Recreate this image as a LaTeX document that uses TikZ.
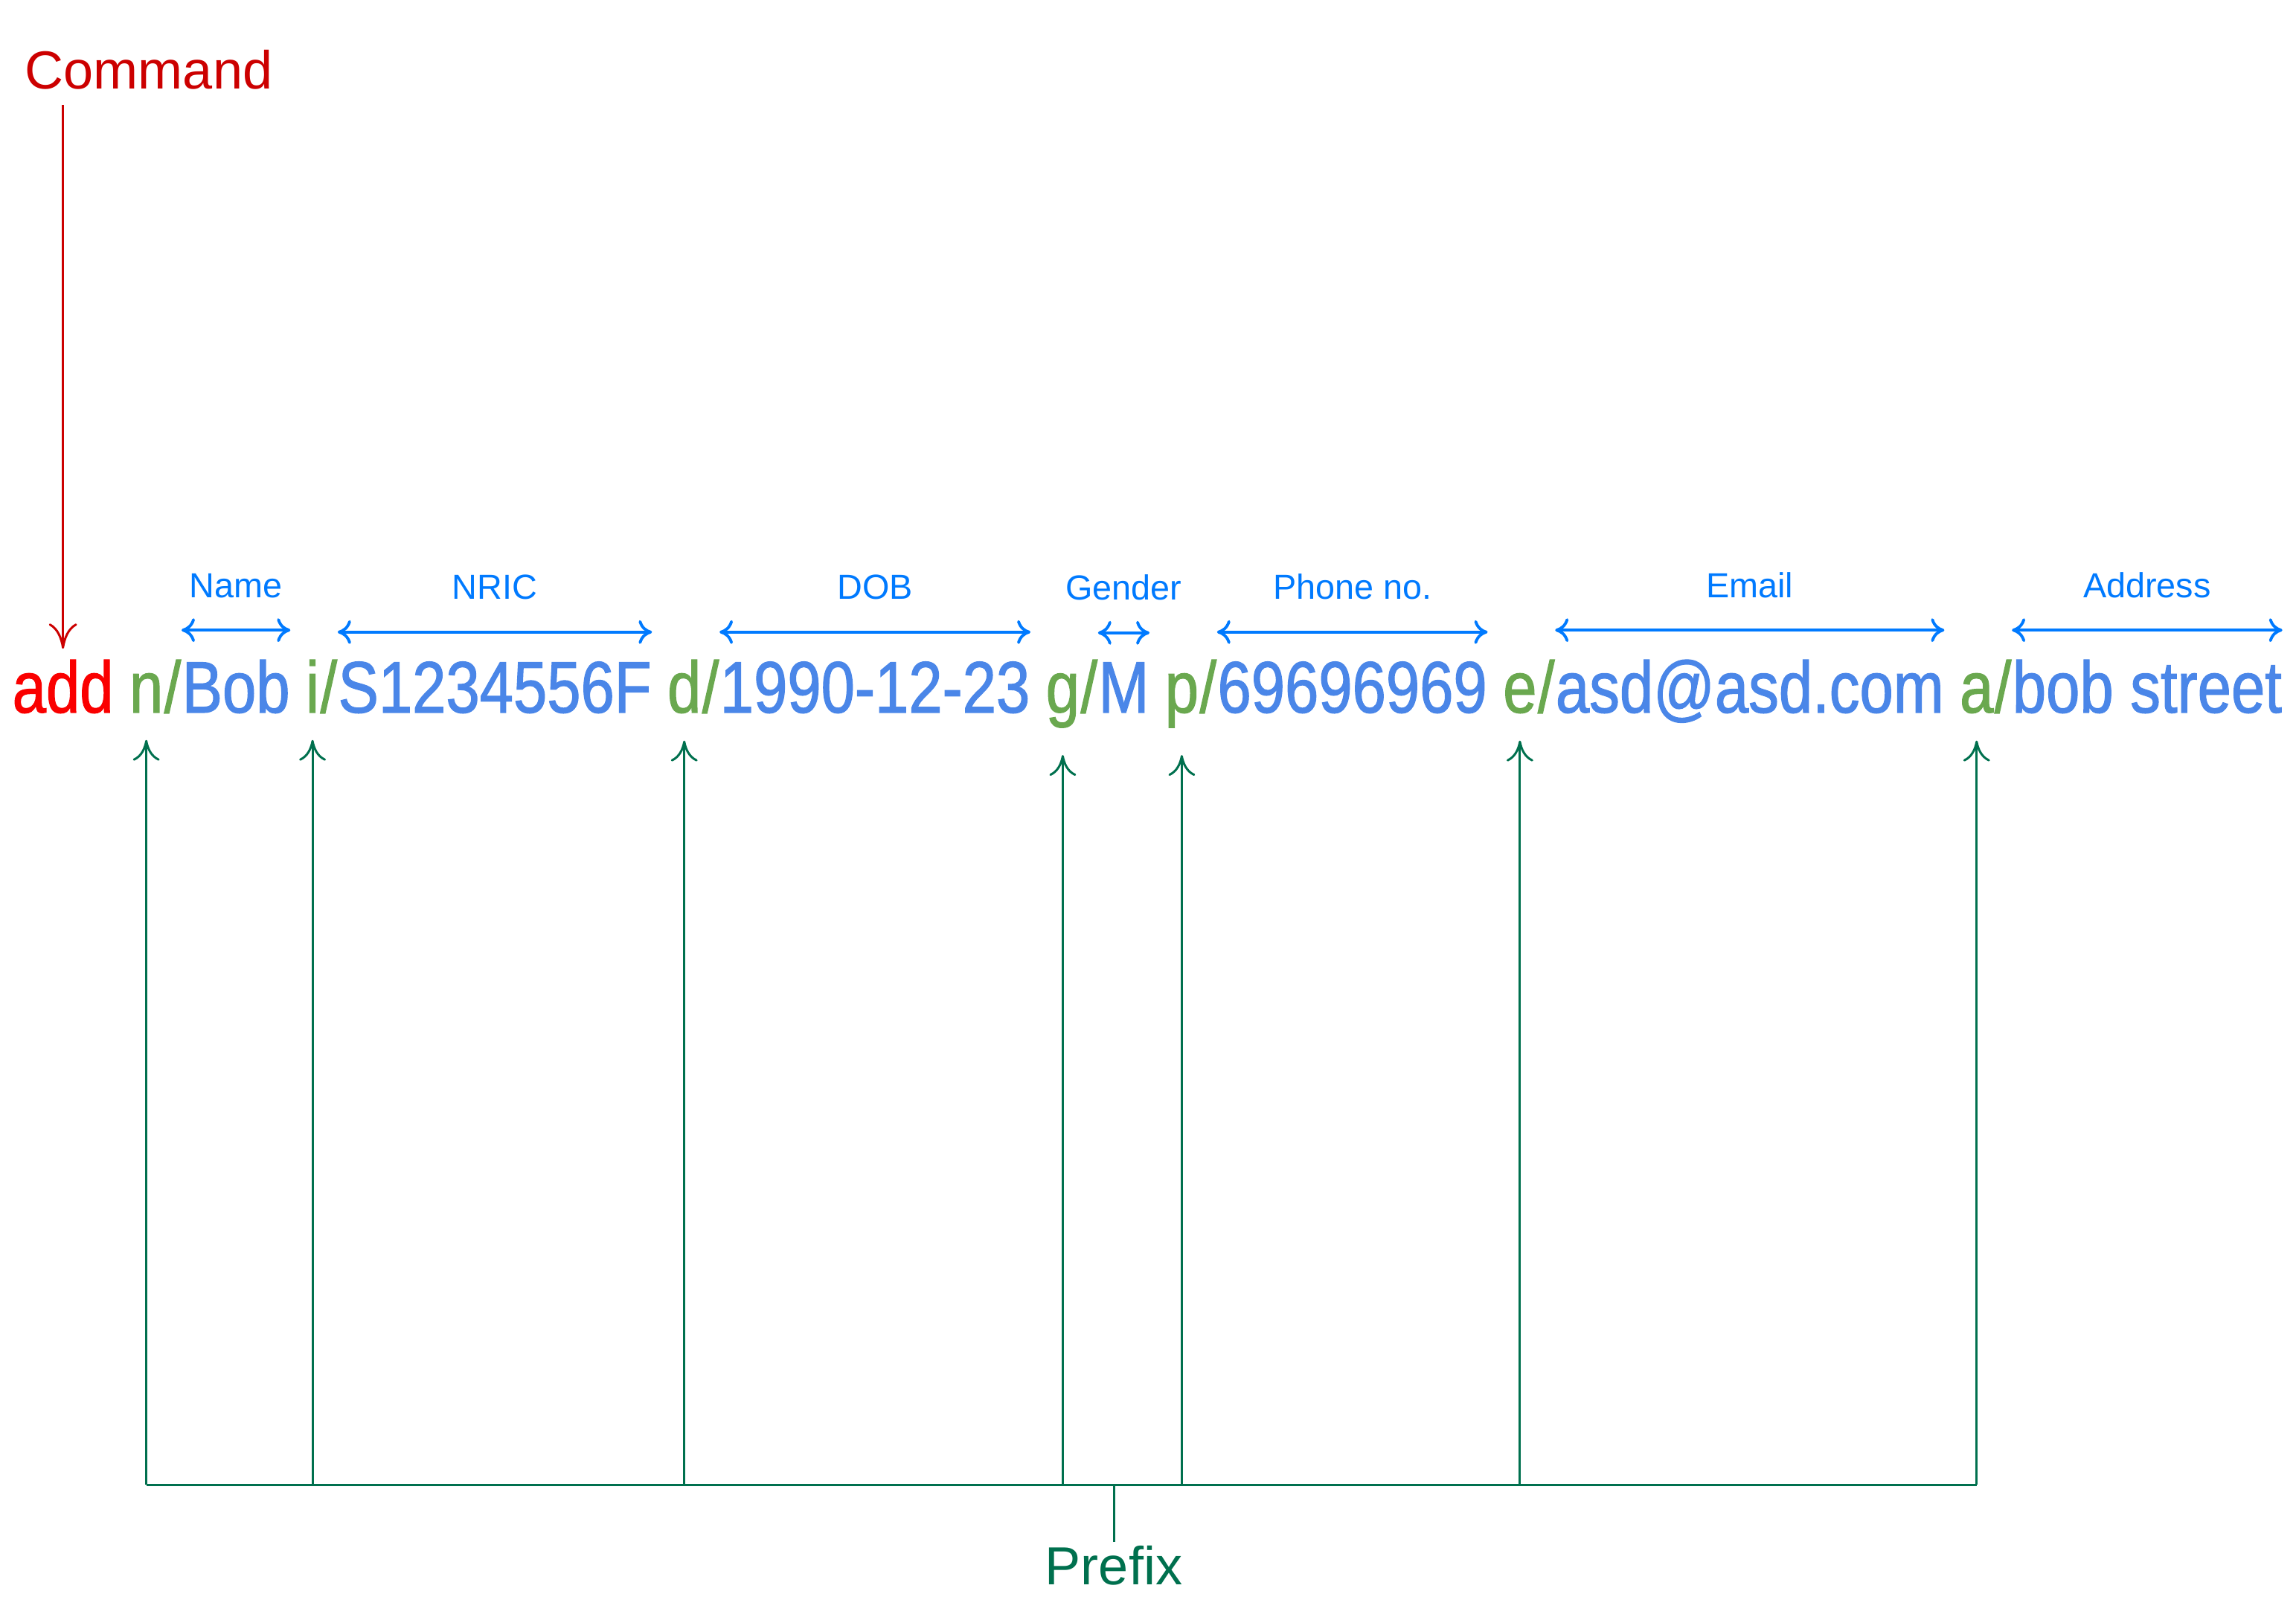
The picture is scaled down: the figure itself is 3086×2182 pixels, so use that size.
\documentclass[tikz,border=0pt]{standalone}
\usepackage{fontspec}
\setmainfont{Liberation Sans}
\newfontfamily\codefont[FakeStretch=0.83,FakeBold=1.2]{Liberation Sans}
\usepackage{xcolor}
\usetikzlibrary{arrows.meta}
\usetikzlibrary{positioning}

\definecolor{cmdred}{RGB}{204,0,0}
\definecolor{addred}{RGB}{250,0,0}
\definecolor{keygreen}{RGB}{106,168,79}
\definecolor{valblue}{RGB}{74,134,232}
\definecolor{lblblue}{RGB}{0,122,255}
\definecolor{pregreen}{RGB}{0,112,78}

\begin{document}
\begin{tikzpicture}[x=0.01cm, y=-0.01cm,
    word/.style={inner sep=0pt, font=\codefont\fontsize{27.9}{30}\selectfont},
    cmdword/.style={word, text=addred},
    keyword/.style={word, text=keygreen},
    valword/.style={word, text=valblue},
    fieldlbl/.style={inner sep=0pt, text depth=0pt, text=lblblue, font=\fontsize{13.3}{15}\selectfont},
    bigword/.style={inner sep=0pt, font=\fontsize{20.5}{24}\selectfont},
    fieldspan/.style={draw=lblblue, line width=1.1pt,
        {Computer Modern Rightarrow[length=0.18cm,width=0.32cm]}-{Computer Modern Rightarrow[length=0.18cm,width=0.32cm]}},
    cmdarrow/.style={draw=cmdred, line width=0.85pt, -{Computer Modern Rightarrow[length=0.34cm,width=0.38cm]}},
    prearrow/.style={draw=pregreen, line width=0.85pt, -{Computer Modern Rightarrow[length=0.28cm,width=0.36cm]}, shorten >=0.36cm},
    busline/.style={draw=pregreen, line width=0.85pt}]

    \useasboundingbox (0,0) rectangle (3086,2182);

    % the command line
    \node[cmdword, anchor=base west] (add) at (16,958) {add};

    \node[keyword, base right=0.2cm of add] (k-n) {n};
    \node[keyword, base right=0pt of k-n] (s-n) {/};
    \node[valword, base right=0pt of s-n] (v-n) {Bob};

    \node[keyword, base right=0.2cm of v-n] (k-i) {i};
    \node[keyword, base right=0pt of k-i] (s-i) {/};
    \node[valword, base right=0pt of s-i] (v-i) {S1234556F};

    \node[keyword, base right=0.2cm of v-i] (k-d) {d};
    \node[keyword, base right=0pt of k-d] (s-d) {/};
    \node[valword, base right=0pt of s-d] (v-d) {1990-12-23};

    \node[keyword, base right=0.2cm of v-d] (k-g) {g};
    \node[keyword, base right=0pt of k-g] (s-g) {/};
    \node[valword, base right=0pt of s-g] (v-g) {M};

    \node[keyword, base right=0.2cm of v-g] (k-p) {p};
    \node[keyword, base right=0pt of k-p] (s-p) {/};
    \node[valword, base right=0pt of s-p] (v-p) {69696969};

    \node[keyword, base right=0.2cm of v-p] (k-e) {e};
    \node[keyword, base right=0pt of k-e] (s-e) {/};
    \node[valword, base right=0pt of s-e] (v-e) {asd@asd.com};

    \node[keyword, base right=0.2cm of v-e] (k-a) {a};
    \node[keyword, base right=0pt of k-a] (s-a) {/};
    \node[valword, base right=0pt of s-a] (v-a) {bob street};

    % command
    \node[bigword, text=cmdred, anchor=base west] (command) at (33,120) {Command};
    \draw[cmdarrow, shorten <=0.2cm, shorten >=0.14cm] (add |- command.south) -- (add.north);

    % field labels
    \draw[fieldspan] ([yshift=0.39cm]v-n.north west) -- node[fieldlbl, above=0.42cm] (l-name) {Name} ([yshift=0.39cm]v-n.north east);
    \draw[fieldspan] ([yshift=0.39cm]v-i.north west) -- node[fieldlbl, above=0.42cm] (l-nric) {NRIC} ([yshift=0.39cm]v-i.north east);
    \draw[fieldspan] ([yshift=0.39cm]v-d.north west) -- node[fieldlbl, above=0.42cm] (l-dob) {DOB} ([yshift=0.39cm]v-d.north east);
    \draw[fieldspan] ([yshift=0.39cm]v-g.north west) -- node[fieldlbl, above=0.42cm] (l-gender) {Gender} ([yshift=0.39cm]v-g.north east);
    \draw[fieldspan] ([yshift=0.39cm]v-p.north west) -- node[fieldlbl, above=0.42cm] (l-phone) {Phone no.} ([yshift=0.39cm]v-p.north east);
    \draw[fieldspan] ([yshift=0.39cm]v-e.north west) -- node[fieldlbl, above=0.42cm] (l-email) {Email} ([yshift=0.39cm]v-e.north east);
    \draw[fieldspan] ([yshift=0.39cm]v-a.north west) -- node[fieldlbl, above=0.42cm] (l-address) {Address} ([yshift=0.39cm]v-a.north east);

    % prefixes
    \coordinate (bus) at (1500,1996);
    \node[bigword, text=pregreen, anchor=base] (prefix) at (1497,2130) {Prefix};

    \draw[busline] (k-n |- bus) -- (k-a |- bus);
    \draw[busline, shorten <=0.04cm] (prefix.north) -- (prefix.north |- bus);

    \draw[prearrow] (k-n |- bus) -- (k-n.south);
    \draw[prearrow] (k-i |- bus) -- (k-i.south);
    \draw[prearrow] (k-d |- bus) -- (k-d.south);
    \draw[prearrow] (k-g |- bus) -- (k-g.south);
    \draw[prearrow] (k-p |- bus) -- (k-p.south);
    \draw[prearrow] (k-e |- bus) -- (k-e.south);
    \draw[prearrow] (k-a |- bus) -- (k-a.south);
\end{tikzpicture}
\end{document}
